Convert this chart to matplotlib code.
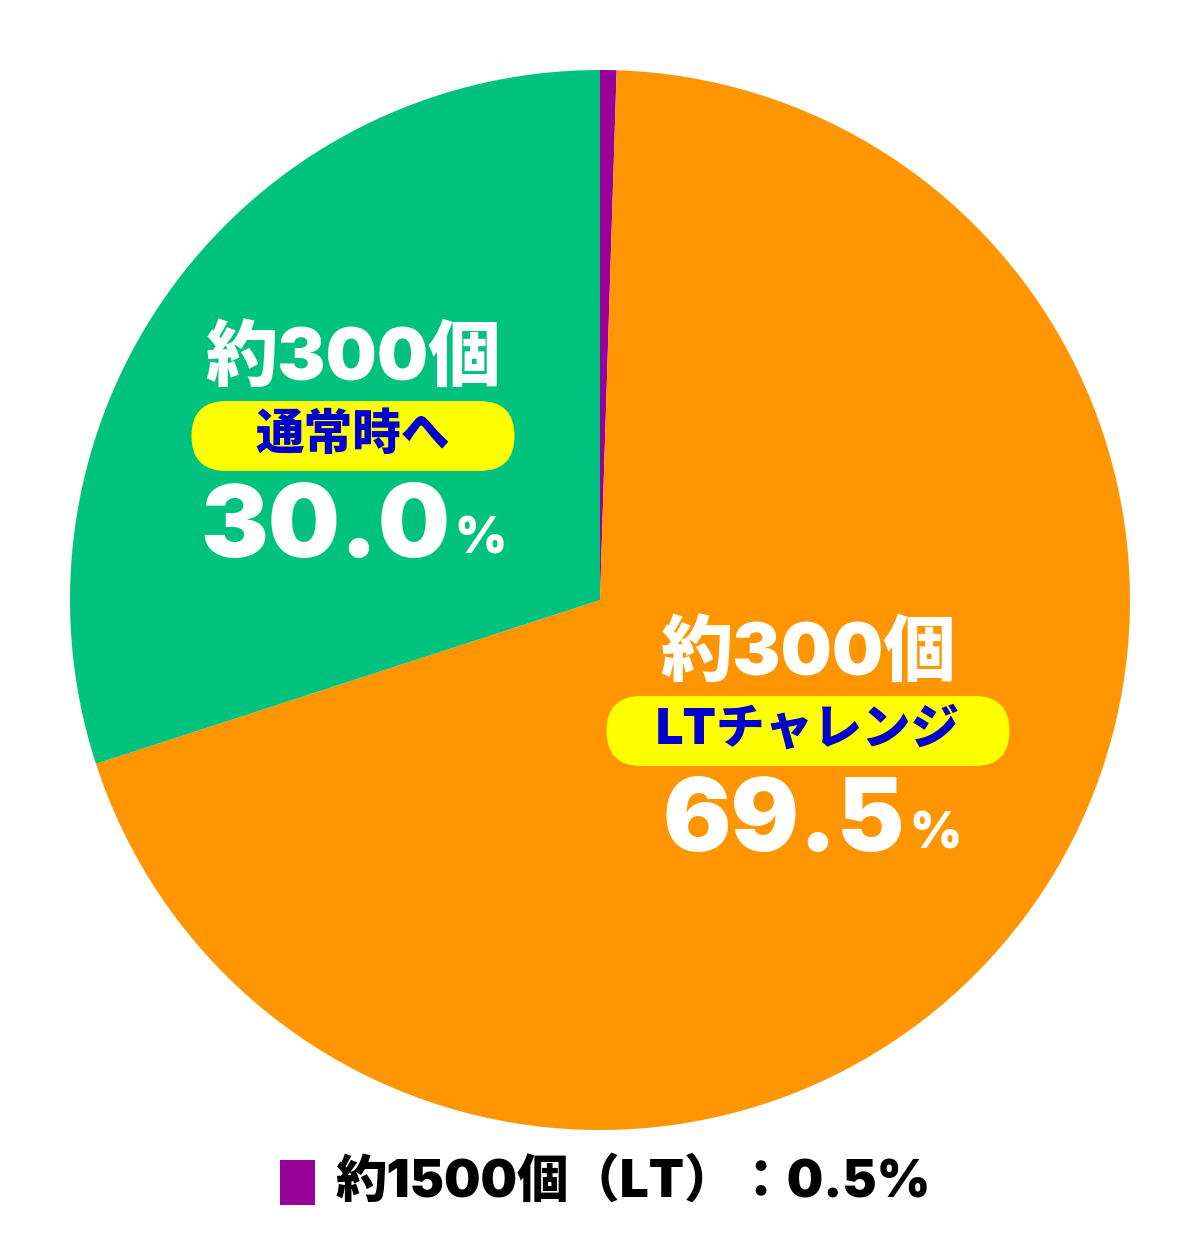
import matplotlib.pyplot as plt
from matplotlib.patches import FancyBboxPatch, Rectangle

plt.rcParams['font.family'] = ['Inter', 'Noto Sans CJK JP', 'DejaVu Sans']

# data
labels = ["約1500個（LT）", "LTチャレンジ", "通常時へ"]
counts = ["約1500個", "約300個", "約300個"]
shares = [0.5, 69.5, 30.0]
colors = ["#990099", "#FF9500", "#00C27F"]

W, H = 1200, 1249
fig = plt.figure(figsize=(W / 100, H / 100), dpi=100)
ax = fig.add_axes([0, 0, 1, 1])

cx, cy, r = 600, H - 600, 530
ax.pie(shares, colors=colors, startangle=90, counterclock=False,
       center=(cx, cy), radius=r, frame=True,
       wedgeprops=dict(linewidth=0))
ax.set_xlim(0, W)
ax.set_ylim(0, H)
ax.set_aspect('equal')
ax.axis('off')


def slice_label(x, y, count, name, share, box_w):
    # count line
    ax.text(x, y + 76, count, ha='center', va='center', color='white',
            fontsize=52, fontweight='black')
    # yellow pill with slice name
    pill = FancyBboxPatch((x - box_w / 2, y - 35), box_w, 70,
                          boxstyle="round,pad=0,rounding_size=35",
                          fc="#FFFF00", ec="none")
    ax.add_patch(pill)
    ax.text(x, y, name, ha='center', va='center', color='#0000CC',
            fontsize=35, fontweight='black')
    # share line
    ax.text(x + 97, y - 94, f"{share:.1f}", ha='right', va='center',
            color='white', fontsize=73, fontweight='black')
    ax.text(x + 101, y - 104, "%", ha='left', va='center',
            color='white', fontsize=36, fontweight='black')


slice_label(353, H - 436, counts[2], labels[2], shares[2], 323)
slice_label(808, H - 731, counts[1], labels[1], shares[1], 403)

# legend for the tiny slice
ax.add_patch(Rectangle((280, H - 1205), 35, 45, fc=colors[0], ec='none'))
ax.text(335, H - 1183, f"{labels[0]}：{shares[0]:.1f}%", ha='left',
        va='center', color='black', fontsize=37, fontweight='black')

fig.savefig("out.png", dpi=100, facecolor='white')
